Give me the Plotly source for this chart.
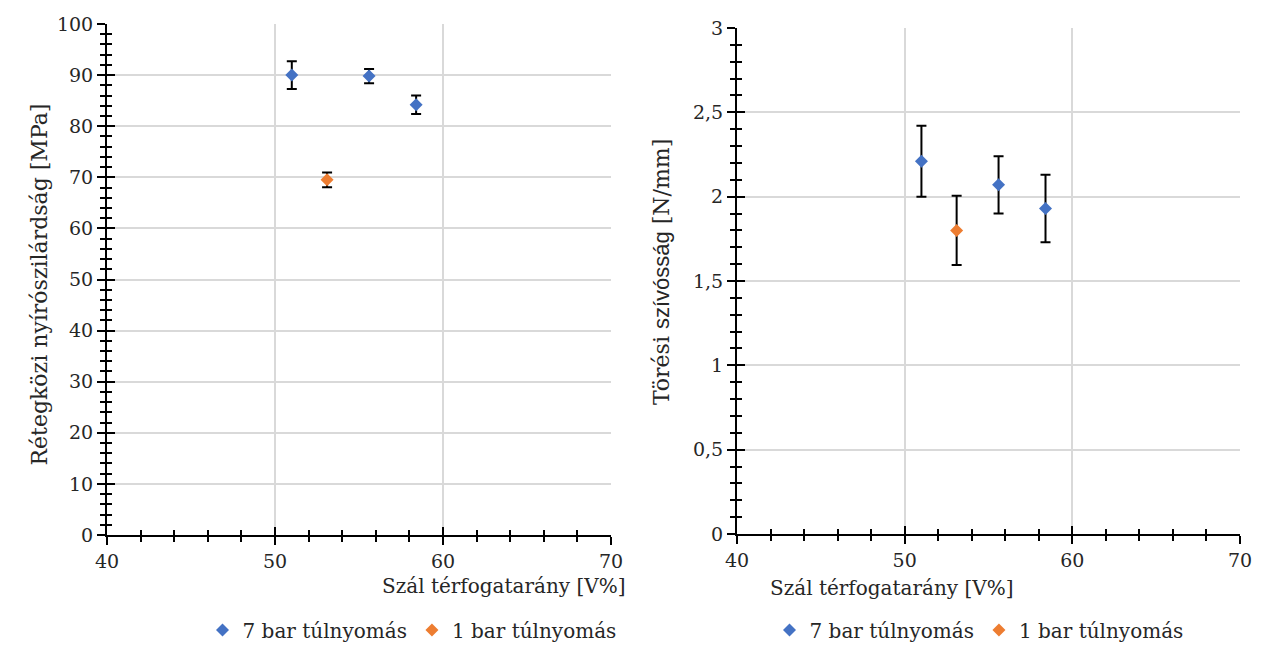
import plotly.graph_objects as go

# ---- data ----
x_7bar = [51.0, 55.6, 58.4]
x_1bar = [53.1]
ilss_7bar = [90.0, 89.8, 84.2]
ilss_7bar_err = [2.7, 1.4, 1.8]
ilss_1bar = [69.5]
ilss_1bar_err = [1.45]
tough_7bar = [2.21, 2.07, 1.93]
tough_7bar_err = [0.21, 0.17, 0.20]
tough_1bar = [1.80]
tough_1bar_err = [0.205]

series_names = ["7 bar túlnyomás", "1 bar túlnyomás"]
x_title = "Szál térfogatarány [V%]"
y_title_left = "Rétegközi nyírószilárdság [MPa]"
y_title_right = "Törési <span style='font-family:Liberation Sans'>szívósság</span> [N/mm]"

BLUE = "#4472C4"
ORANGE = "#ED7D31"
SERIF = "DejaVu Serif"
FS = 19
TXT = "#262626"
GRID = "#D9D9D9"

fig = go.Figure()

def add_series(x, y, err, color, name, xa, ya, legend):
    fig.add_trace(go.Scatter(
        x=x, y=y, mode="markers", name=name,
        xaxis=xa, yaxis=ya, legend=legend,
        marker=dict(symbol="diamond", size=10, color=color, line=dict(width=0)),
        error_y=dict(type="data", array=err, color="black", thickness=2, width=5),
    ))

add_series(x_7bar, ilss_7bar, ilss_7bar_err, BLUE, series_names[0], "x", "y", "legend")
add_series(x_1bar, ilss_1bar, ilss_1bar_err, ORANGE, series_names[1], "x", "y", "legend")
add_series(x_7bar, tough_7bar, tough_7bar_err, BLUE, series_names[0], "x2", "y2", "legend2")
add_series(x_1bar, tough_1bar, tough_1bar_err, ORANGE, series_names[1], "x2", "y2", "legend2")

# empty traces for overlay (inside-tick) axes
for xa, ya in [("x3", "y3"), ("x4", "y4")]:
    fig.add_trace(go.Scatter(x=[], y=[], xaxis=xa, yaxis=ya, showlegend=False, hoverinfo="skip"))

# page body has an 8px margin: lay out in screen pixels, shifted by OFF
OFF = 8
W, H = 1261 - OFF, 651 - 2 * OFF

def px(p):
    return (p - OFF) / W

def py(p):
    return (H - (p - OFF)) / H

lx = [px(107), px(611)]
rx = [px(737), px(1240)]
ly = [py(535), py(24)]
ry = [py(534), py(28)]

tickfont = dict(family=SERIF, size=FS, color=TXT)

def common(rng, dtick, mdtick, anchor, inside, overlay, domain):
    side = "inside" if inside else "outside"
    d = dict(range=rng, dtick=dtick, tick0=0,
             ticks=side, ticklen=8, tickwidth=2, tickcolor="black",
             minor=dict(ticks=side, dtick=mdtick, ticklen=5, tickwidth=2,
                        tickcolor="black", showgrid=False),
             anchor=anchor, zeroline=False, fixedrange=True, automargin=False)
    if overlay:
        d.update(overlaying=overlay, showticklabels=False, showgrid=False, showline=False)
    else:
        d.update(domain=domain, showline=True, linecolor="black", linewidth=2,
                 showgrid=True, gridcolor=GRID, gridwidth=1.5, tickfont=tickfont)
    return d

legend_common = dict(orientation="h", xanchor="center", yanchor="middle",
                     font=dict(family=SERIF, size=20, color=TXT),
                     bgcolor="rgba(0,0,0,0)", itemwidth=30, tracegroupgap=0)

fig.update_layout(
    width=W, height=H,
    margin=dict(l=0, r=0, t=0, b=0, autoexpand=False),
    paper_bgcolor="white", plot_bgcolor="white",
    separators=", ",
    xaxis=common([40, 70], 10, 2, "y", False, None, lx),
    yaxis=common([0, 100], 10, 2, "x", False, None, ly),
    xaxis2=common([40, 70], 10, 2, "y2", False, None, rx),
    yaxis2=common([0, 3], 0.5, 0.1, "x2", False, None, ry),
    xaxis3=common([40, 70], 10, 2, "y3", True, "x", lx),
    yaxis3=common([0, 100], 10, 2, "x3", True, "y", ly),
    xaxis4=common([40, 70], 10, 2, "y4", True, "x2", rx),
    yaxis4=common([0, 3], 0.5, 0.1, "x4", True, "y2", ry),
    legend=dict(x=px(412), y=py(630), **legend_common),
    legend2=dict(x=px(979), y=py(630), **legend_common),
    annotations=[
        dict(text=x_title, x=px(380), y=py(600), xref="paper", yref="paper",
             showarrow=False, font=dict(family=SERIF, size=20, color=TXT)),
        dict(text=x_title, x=px(1016), y=py(602), xref="paper", yref="paper",
             showarrow=False, font=dict(family=SERIF, size=20, color=TXT)),
        dict(text=y_title_left, x=px(24), y=py(285), xref="paper", yref="paper",
             showarrow=False, textangle=-90, font=dict(family=SERIF, size=22, color=TXT)),
        dict(text=y_title_right, x=px(661), y=py(272), xref="paper", yref="paper",
             showarrow=False, textangle=-90, font=dict(family=SERIF, size=22, color=TXT)),
    ],
)

fig.write_html("out.html")
